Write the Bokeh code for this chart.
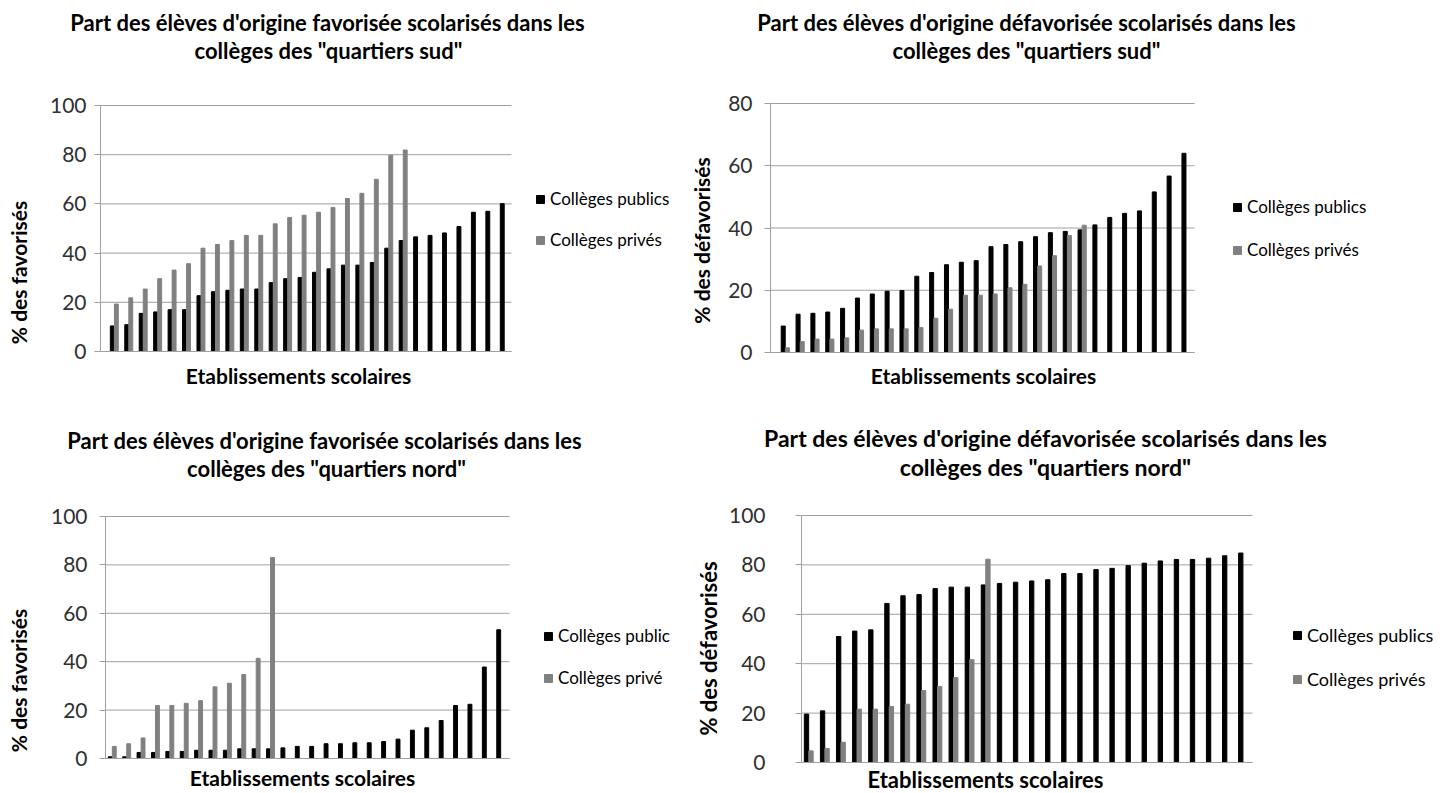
import numpy as np
from bokeh.plotting import figure
from bokeh.models import Range1d, Label
from bokeh.layouts import column, row
from bokeh.embed import file_html
from bokeh.resources import INLINE

FONT = "Lato"

# ---------------- data ----------------
south_fav_public = [10.4, 10.9, 15.5, 16.1, 17.0, 17.0, 22.7, 24.3, 24.9, 25.4, 25.4, 28.0, 29.6, 30.1,
                    32.2, 33.6, 35.1, 35.1, 36.2, 42.0, 45.1, 46.6, 47.2, 48.2, 50.8, 56.6, 57.0, 60.1]
south_fav_private = [19.3, 21.8, 25.4, 29.6, 33.1, 35.7, 42.0, 43.5, 45.1, 47.2, 47.2, 51.9, 54.5, 55.4,
                     56.6, 58.5, 62.2, 64.3, 70.0, 79.8, 81.9]

south_defav_public = [8.5, 12.3, 12.6, 13.0, 14.2, 17.5, 18.8, 19.7, 19.9, 24.5, 25.7, 28.2, 29.0, 29.5,
                      34.0, 34.7, 35.6, 37.2, 38.5, 38.9, 39.4, 41.0, 43.4, 44.7, 45.5, 51.6, 56.7, 64.0]
south_defav_private = [1.5, 3.5, 4.3, 4.3, 4.7, 7.2, 7.6, 7.6, 7.6, 8.0, 11.0, 13.9, 18.4, 18.4,
                       18.8, 20.8, 21.9, 27.8, 31.1, 37.6, 40.9]

north_fav_public = [0.7, 0.7, 2.5, 2.5, 2.9, 2.9, 3.4, 3.4, 3.4, 4.0, 4.0, 4.0, 4.4, 5.0,
                    5.0, 6.1, 6.1, 6.5, 6.5, 7.0, 8.0, 11.7, 12.7, 15.7, 21.9, 22.4, 37.8, 53.2]
north_fav_private = [5.0, 6.1, 8.5, 21.9, 21.9, 22.8, 23.9, 29.6, 31.1, 34.7, 41.4, 83.0]

north_defav_public = [19.6, 20.9, 51.0, 53.2, 53.7, 64.4, 67.5, 68.0, 70.4, 71.0, 71.0, 71.9, 72.5, 73.0,
                      73.5, 74.0, 76.5, 76.5, 78.1, 78.6, 79.7, 80.7, 81.6, 82.2, 82.2, 82.7, 83.7, 84.8]
north_defav_private = [4.7, 5.7, 8.2, 21.6, 21.6, 22.7, 23.6, 29.1, 30.8, 34.4, 41.6, 82.3]

ticks_100 = [0, 20, 40, 60, 80, 100]
ticks_80 = [0, 20, 40, 60, 80]

xlabel_text = "Etablissements scolaires"

# layout configuration (page pixels)
panels = [
    dict(origin=(0, 0), size=(680, 405), area=(100, 105, 511, 351),
         xr=(0.044, 28.5), yr=(0, 100), ticks=ticks_100, tick_standoff=8,
         public=south_fav_public, private=south_fav_private,
         leg=("Collèges publics", "Collèges privés"), leg_pos=(535, 200, 240), leg_font="17px",
         title=("Part des élèves d'origine favorisée scolarisés dans les",
                "collèges des \"quartiers sud\""),
         title_pos=((327, 22), (328, 50)), title_font="22px",
         xlab_pos=(298, 375), xlab_font="21px",
         ylab="% des favorisés", ylab_pos=(18, 272), ylab_font="21px"),
    dict(origin=(680, 0), size=(762, 405), area=(770, 103, 1194, 352),
         xr=(0.003, 28.57), yr=(0, 80), ticks=ticks_80, tick_standoff=12,
         public=south_defav_public, private=south_defav_private,
         leg=("Collèges publics", "Collèges privés"), leg_pos=(1232, 208, 250), leg_font="17px",
         title=("Part des élèves d'origine défavorisée scolarisés dans les",
                "collèges des \"quartiers sud\""),
         title_pos=((1026, 22), (1026, 50)), title_font="22px",
         xlab_pos=(983, 375), xlab_font="21px",
         ylab="% des défavorisés", ylab_pos=(701, 240), ylab_font="21px"),
    dict(origin=(0, 405), size=(680, 387), area=(105, 516, 509, 758),
         xr=(0.53, 28.61), yr=(0, 100), ticks=ticks_100, tick_standoff=12,
         public=north_fav_public, private=north_fav_private,
         leg=("Collèges public", "Collèges privé"), leg_pos=(543, 637, 678), leg_font="17px",
         title=("Part des élèves d'origine favorisée scolarisés dans les",
                "collèges des \"quartiers nord\""),
         title_pos=((324, 440), (326, 468)), title_font="22px",
         xlab_pos=(302, 777), xlab_font="21px",
         ylab="% des favorisés", ylab_pos=(18, 680), ylab_font="21px"),
    dict(origin=(680, 405), size=(762, 387), area=(801, 515, 1252, 762),
         xr=(0.55, 28.59), yr=(0, 100), ticks=ticks_100, tick_standoff=30,
         public=north_defav_public, private=north_defav_private,
         leg=("Collèges publics", "Collèges privés"), leg_pos=(1292, 638, 680), leg_font="18px",
         title=("Part des élèves d'origine défavorisée scolarisés dans les",
                "collèges des \"quartiers nord\""),
         title_pos=((1045, 437), (1045, 466)), title_font="23px",
         xlab_pos=(985, 779), xlab_font="22px",
         ylab="% des défavorisés", ylab_pos=(708, 648), ylab_font="22px"),
]

GRID = "#a0a0a0"


def build(cfg):
    ox, oy = cfg["origin"]
    W, H = cfg["size"]
    fl, ft, fr, fb = cfg["area"]
    x0, x1 = cfg["xr"]
    y0, y1 = cfg["yr"]
    kx = (x1 - x0) / (fr - fl)
    ky = (y1 - y0) / (fb - ft)

    def dx(px):
        return x0 + (px - fl) * kx

    def dy(py):
        return y0 + (fb - py) * ky

    # the frame covers the whole canvas; the plot area is drawn inside it
    p = figure(width=W, height=H,
               x_range=Range1d(dx(ox), dx(ox + W)), y_range=Range1d(dy(oy + H), dy(oy)),
               output_backend="svg", toolbar_location=None,
               min_border_left=0, min_border_right=0, min_border_top=0, min_border_bottom=0)
    p.outline_line_color = None
    p.background_fill_color = "white"
    p.border_fill_color = "white"
    p.xgrid.visible = False
    p.ygrid.visible = False

    ticks = cfg["ticks"]
    # horizontal gridlines at the tick values, across the plot area only
    p.segment(x0=[x0] * len(ticks), x1=[x1] * len(ticks), y0=ticks, y1=ticks,
              line_color=GRID, line_width=1, level="underlay")

    pub = cfg["public"]
    prv = cfg["private"]
    idx_pub = np.arange(1, len(pub) + 1)
    idx_prv = np.arange(1, len(prv) + 1)
    p.vbar(x=idx_pub - 0.14, top=pub, width=0.27, bottom=0, color="black",
           legend_label=cfg["leg"][0])
    p.vbar(x=idx_prv + 0.14, top=prv, width=0.27, bottom=0, color="#808080",
           legend_label=cfg["leg"][1])

    # y axis drawn at the left edge of the plot area
    ya = p.yaxis[0]
    ya.fixed_location = x0
    ya.bounds = (y0, y1)
    ya.ticker = ticks
    ya.axis_line_color = GRID
    ya.major_tick_line_color = GRID
    ya.major_tick_out = 6
    ya.major_tick_in = 0
    ya.minor_tick_line_color = None
    ya.minor_tick_out = 0
    ya.major_label_standoff = cfg["tick_standoff"]
    ya.major_label_text_font = FONT
    ya.major_label_text_font_size = "21px"
    ya.major_label_text_color = "#303030"

    # x axis: a plain line along the bottom of the plot area
    xa = p.xaxis[0]
    xa.fixed_location = y0
    xa.bounds = (x0, x1)
    xa.ticker = []
    xa.axis_line_color = GRID
    xa.major_tick_line_color = None
    xa.minor_tick_line_color = None
    xa.major_tick_out = 0
    xa.minor_tick_out = 0
    xa.major_label_text_font_size = "0px"

    # legend
    sq_left, c1, c2 = cfg["leg_pos"]
    item_h = 20
    lg = p.legend[0]
    lg.location = (sq_left - ox, (oy + H) - (c2 + item_h / 2))
    lg.glyph_width = 10
    lg.glyph_height = 10
    lg.label_height = item_h
    lg.spacing = int((c2 - c1) - item_h)
    lg.padding = 0
    lg.margin = 0
    lg.border_line_color = None
    lg.background_fill_alpha = 0
    lg.label_standoff = 5
    lg.label_text_font = FONT
    lg.label_text_font_size = cfg["leg_font"]
    lg.label_text_color = "black"

    # titles and axis labels
    for line, (cx, cy) in zip(cfg["title"], cfg["title_pos"]):
        p.add_layout(Label(x=dx(cx), y=dy(cy), text=line, text_align="center",
                           text_baseline="middle", text_font=FONT,
                           text_font_size=cfg["title_font"], text_font_style="bold",
                           text_color="black"))
    cx, cy = cfg["xlab_pos"]
    p.add_layout(Label(x=dx(cx), y=dy(cy), text=xlabel_text, text_align="center",
                       text_baseline="middle", text_font=FONT,
                       text_font_size=cfg["xlab_font"], text_font_style="bold",
                       text_color="black"))
    cx, cy = cfg["ylab_pos"]
    p.add_layout(Label(x=dx(cx), y=dy(cy), text=cfg["ylab"], angle=np.pi / 2,
                       text_align="center", text_baseline="middle", text_font=FONT,
                       text_font_size=cfg["ylab_font"], text_font_style="bold",
                       text_color="black"))
    return p


figs = [build(c) for c in panels]
layout = column(row(figs[0], figs[1], spacing=0), row(figs[2], figs[3], spacing=0), spacing=0)

open("out.html", "w").write(file_html(layout, INLINE))
